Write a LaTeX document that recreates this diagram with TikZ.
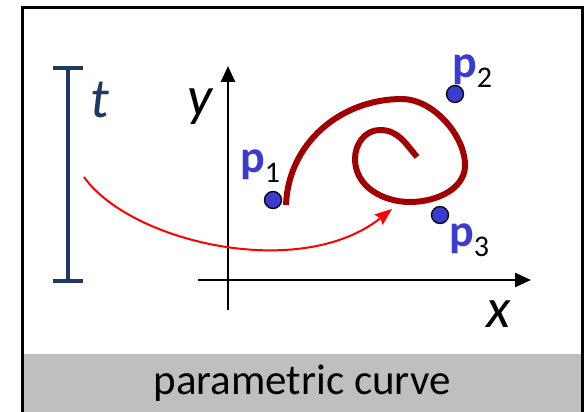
\documentclass[tikz,border=0pt]{standalone}
\usepackage{fontspec}
\setmainfont{Carlito}
\usepackage{xcolor}
\definecolor{navy}{HTML}{1F3864}
\definecolor{curvered}{HTML}{A00000}
\definecolor{pblue}{HTML}{3B3BCF}
\definecolor{band}{HTML}{BFBFBF}
\usetikzlibrary{arrows.meta,positioning}
\tikzset{
  frame/.style    = {draw=black, line width=3pt},
  caption/.style  = {anchor=base, inner sep=0pt, font=\fontsize{43}{43}\selectfont},
  tbar/.style     = {draw=navy, line width=4.5pt},
  axis/.style     = {-{Triangle[length=16pt,width=14pt]}, line width=2.5pt},
  mathlbl/.style  = {anchor=base, inner sep=0pt, font=\fontsize{56}{56}\selectfont\itshape},
  dot/.style      = {circle, draw=black, line width=1.3pt, fill=pblue,
                     minimum size=17pt, inner sep=0pt},
  plbl/.style     = {anchor=base west, inner sep=0pt, font=\fontsize{46}{46}\selectfont},
  curve/.style    = {draw=curvered, line width=6pt},
  maparrow/.style = {-{Stealth[length=17pt,width=13pt,inset=2pt]}, draw=red, line width=2pt}
}
\newcommand{\pname}[1]{{\color{pblue}\bfseries p}\raisebox{-10pt}{\fontsize{30}{30}\selectfont #1}}

\begin{document}
\begin{tikzpicture}[x=1pt,y=1pt]
  \useasboundingbox (0,0) rectangle (587,412);
  % frame and caption band
  \fill[band] (22,0) rectangle (582,58);
  \draw[frame] (22,-5) -- (22,404) -- (582,404) -- (582,-5);
  \node[caption] (cap) at (302,17) {parametric curve};

  % parameter interval
  \coordinate (ttop) at (68,344);
  \coordinate (tbot) at (68,131);
  \draw[tbar] (ttop) -- (tbot);
  \draw[tbar] ([xshift=-15pt]ttop) -- ([xshift=15pt]ttop);
  \draw[tbar] ([xshift=-15pt]tbot) -- ([xshift=15pt]tbot);
  \node[mathlbl, text=navy] (tlbl) at (100,294) {t};

  % axes
  \coordinate (ybot) at (228,102);
  \coordinate (ytop) at (228,346);
  \coordinate (xleft) at (198,132);
  \coordinate (xright) at (531,132);
  \draw[axis] (ybot) -- (ytop);
  \draw[axis] (xleft) -- (xright);
  \node[mathlbl] (ylbl) at (200,296) {y};
  \node[mathlbl] (xlbl) at (499,84) {x};

  % the curve
  \draw[curve] (286,207) to[out=88,in=180] (402,313)
    to[out=0,in=95,looseness=0.85] (465,250)
    to[out=-85,in=0] (410,210)
    to[out=180,in=-90] (355,253)
    to[out=90,in=180] (380,282)
    to[out=0,in=130] (417,255);

  % control points
  \node[dot] (p1) at (273,212) {};
  \node[dot] (p2) at (455,318) {};
  \node[dot] (p3) at (440,197) {};
  \node[plbl] (p1lbl) at (240,239) {\pname{1}};
  \node[plbl] (p2lbl) at (452,334) {\pname{2}};
  \node[plbl] (p3lbl) at (449,165) {\pname{3}};

  % parameter to point
  \coordinate (tpick) at (84,235);
  \coordinate (hit) at (392,203);
  \draw[maparrow] (tpick) .. controls (130,170) and (300,130) .. (hit);
\end{tikzpicture}
\end{document}
